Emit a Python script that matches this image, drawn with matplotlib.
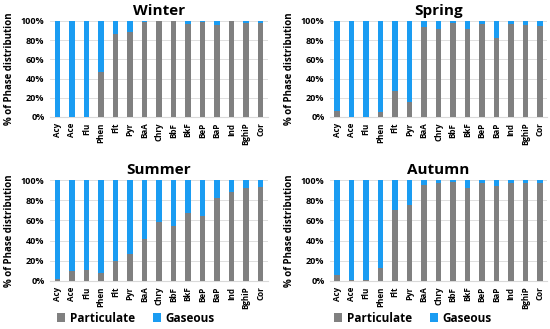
import matplotlib
matplotlib.use("Agg")
import matplotlib.pyplot as plt
from matplotlib.ticker import FuncFormatter

plt.rcParams['font.family'] = ['Open Sans', 'DejaVu Sans']
plt.rcParams['font.weight'] = 'bold'

compounds = ['Acy', 'Ace', 'Flu', 'Phen', 'Flt', 'Pyr', 'BaA', 'Chry', 'BbF',
             'BkF', 'BeP', 'BaP', 'Ind', 'BghiP', 'Cor']

# particulate share (%) per season, gaseous is the rest
winter = [0, 0.5, 0, 47, 86, 89, 99, 99.5, 99.5, 97, 99, 96, 99.5, 98, 98]
spring = [6, 0, 0, 5, 27, 16, 94, 92, 98, 92, 97, 82, 97, 96, 95]
summer = [2, 10, 11, 8, 20, 27, 42, 58, 54, 67, 64, 82, 88, 92, 93]
autumn = [6, 0.5, 1, 13, 70, 75, 95, 97, 98.5, 92, 97, 94, 97.5, 97, 97]

seasons = ['Winter', 'Spring', 'Summer', 'Autumn']
data = [winter, spring, summer, autumn]

gray = '#808080'
blue = '#1a9cf2'

W, H = 550, 329
fig = plt.figure(figsize=(5.5, 3.29), dpi=100)

# axes boxes in pixels: left, top, width, height
boxes = [(50, 21, 218, 96), (330, 21, 217, 96),
         (50, 180, 218, 101), (330, 180, 217, 101)]
legend_x = {'Summer': 136, 'Autumn': 413}

for name, vals, (l, t, w, h) in zip(seasons, data, boxes):
    ax = fig.add_axes([l / W, 1 - (t + h) / H, w / W, h / H])
    gas = [100 - v for v in vals]
    x = range(len(compounds))
    ax.bar(x, vals, width=0.38, color=gray, label='Particulate', zorder=3)
    ax.bar(x, gas, width=0.38, bottom=vals, color=blue, label='Gaseous', zorder=3)
    ax.set_xlim(-0.5, len(compounds) - 0.5)
    ax.set_ylim(0, 100)
    ax.set_yticks(range(0, 101, 20))
    ax.yaxis.set_major_formatter(FuncFormatter(lambda v, p: f'{int(v)}%'))
    ax.set_xticks(list(x))
    ax.set_xticklabels(compounds, rotation=90, fontsize=5.8, fontweight='bold')
    ax.tick_params(axis='y', labelsize=6.5, length=0, pad=4)
    ax.tick_params(axis='x', length=0, pad=4)
    for lab in ax.get_yticklabels():
        lab.set_fontweight('bold')
    ax.grid(axis='y', color='#d9d9d9', linewidth=0.6, zorder=0)
    for s in ['top', 'right', 'left']:
        ax.spines[s].set_visible(False)
    ax.spines['bottom'].set_color('#d9d9d9')
    ax.set_title(name, fontsize=11, fontweight='bold', pad=4)
    ax.set_ylabel('% of Phase distribution', fontsize=7, fontweight='bold', labelpad=4)
    if name in legend_x:
        ax.legend(loc='center', bbox_to_anchor=(legend_x[name] / W, 1 - 318 / H),
                  bbox_transform=fig.transFigure, ncol=2, frameon=False,
                  prop={'size': 8.5, 'weight': 'bold'}, handlelength=0.7,
                  handleheight=0.7, handletextpad=0.4, columnspacing=1.5,
                  borderpad=0, borderaxespad=0)

fig.savefig('out.png', dpi=100)
